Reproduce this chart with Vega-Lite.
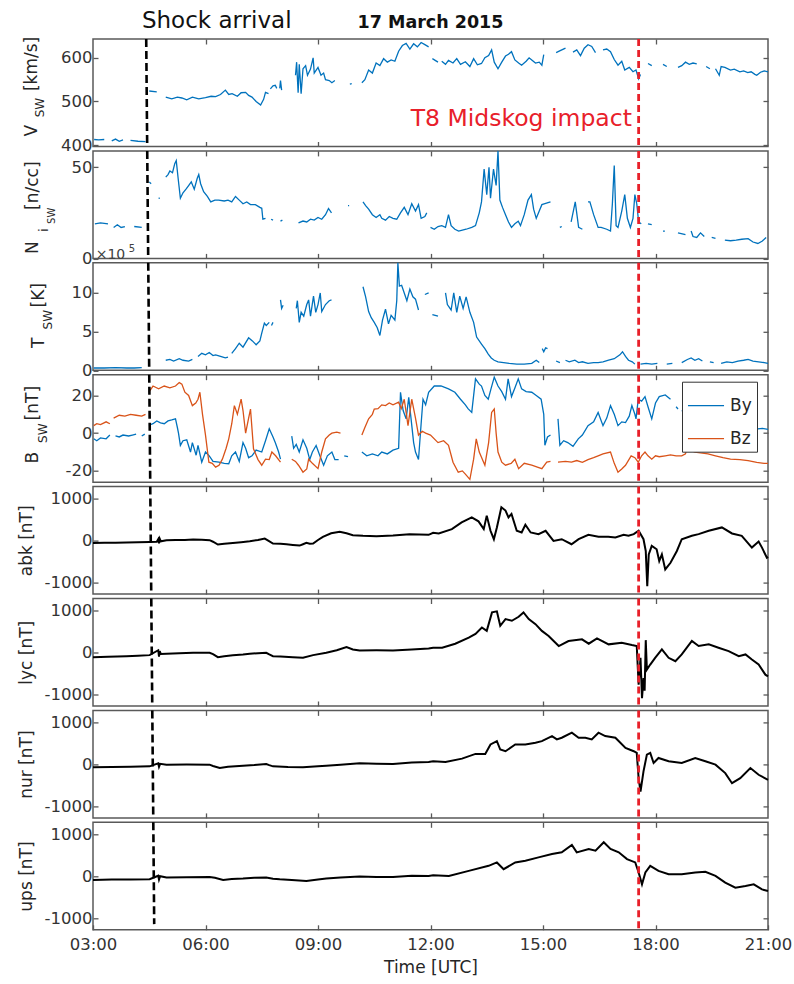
{
"$schema":"https://vega.github.io/schema/vega-lite/v6.json",
"background":"white",
"padding":{"left":16,"top":8,"right":20,"bottom":4},
"bounds":"flush",
"spacing":3.9,
"resolve":{"legend":{"color":"independent"}},
"config":{
 "view":{"stroke":"#595959","strokeWidth":1.5},
 "axis":{"domain":false,"grid":false,"tickColor":"#595959","tickWidth":1.3,"labelFont":"DejaVu Sans","labelFontSize":16.5,"labelColor":"#333333","titleFont":"DejaVu Sans","titleFontSize":17,"titleFontWeight":"normal","titleColor":"#262626"},
 "text":{"font":"DejaVu Sans"}
},
"datasets":{
"V":[
{"t":3.03,"v":413,"s":1},{"t":3.15,"v":412,"s":1},{"t":3.3,"v":413,"s":1},
{"t":3.5,"v":410,"s":2},{"t":3.6,"v":414,"s":2},{"t":3.7,"v":409,"s":2},{"t":3.8,"v":412,"s":2},
{"t":4.0,"v":411,"s":3},{"t":4.2,"v":409,"s":3},{"t":4.4,"v":408,"s":3},
{"t":4.5,"v":524,"s":4},{"t":4.7,"v":522,"s":4},
{"t":4.94,"v":510,"s":5},{"t":5.1,"v":506,"s":5},{"t":5.25,"v":510,"s":5},{"t":5.37,"v":508,"s":5},{"t":5.5,"v":504,"s":5},{"t":5.65,"v":510,"s":5},{"t":5.82,"v":506,"s":5},{"t":6.0,"v":509,"s":5},{"t":6.15,"v":512,"s":5},{"t":6.27,"v":511,"s":5},{"t":6.4,"v":516,"s":5},{"t":6.53,"v":526,"s":5},{"t":6.62,"v":516,"s":5},{"t":6.71,"v":518,"s":5},{"t":6.85,"v":512,"s":5},{"t":6.95,"v":520,"s":5},{"t":7.07,"v":521,"s":5},{"t":7.15,"v":514,"s":5},{"t":7.24,"v":510,"s":5},{"t":7.35,"v":500,"s":5},{"t":7.47,"v":492,"s":5},{"t":7.55,"v":505,"s":5},{"t":7.6,"v":521,"s":5},{"t":7.68,"v":518,"s":5},
{"t":7.73,"v":529,"s":6},{"t":7.8,"v":536,"s":6},{"t":7.86,"v":537,"s":6},{"t":7.9,"v":530,"s":6},
{"t":7.98,"v":530,"s":7},{"t":8.0,"v":548,"s":7},{"t":8.03,"v":526,"s":7},
{"t":8.4,"v":560,"s":8},{"t":8.43,"v":590,"s":8},{"t":8.47,"v":520,"s":8},{"t":8.5,"v":585,"s":8},{"t":8.55,"v":518,"s":8},{"t":8.6,"v":575,"s":8},{"t":8.67,"v":582,"s":8},{"t":8.72,"v":560,"s":8},{"t":8.8,"v":574,"s":8},{"t":8.87,"v":600,"s":8},{"t":8.9,"v":565,"s":8},{"t":9.0,"v":578,"s":8},{"t":9.08,"v":560,"s":8},{"t":9.15,"v":565,"s":8},{"t":9.2,"v":550,"s":8},{"t":9.3,"v":548,"s":8},{"t":9.37,"v":543,"s":8},{"t":9.45,"v":548,"s":8},
{"t":9.85,"v":540,"s":9},{"t":9.9,"v":541,"s":9},
{"t":10.17,"v":543,"s":10},{"t":10.25,"v":550,"s":10},{"t":10.35,"v":572,"s":10},{"t":10.45,"v":565,"s":10},{"t":10.55,"v":588,"s":10},{"t":10.65,"v":582,"s":10},{"t":10.75,"v":598,"s":10},{"t":10.85,"v":590,"s":10},{"t":10.95,"v":595,"s":10},{"t":11.05,"v":592,"s":10},{"t":11.15,"v":615,"s":10},{"t":11.25,"v":628,"s":10},{"t":11.35,"v":633,"s":10},{"t":11.45,"v":620,"s":10},{"t":11.55,"v":632,"s":10},{"t":11.65,"v":625,"s":10},{"t":11.75,"v":635,"s":10},{"t":11.85,"v":630,"s":10},{"t":11.95,"v":625,"s":10},
{"t":12.05,"v":598,"s":11},{"t":12.2,"v":590,"s":11},
{"t":12.3,"v":592,"s":12},{"t":12.4,"v":585,"s":12},{"t":12.48,"v":594,"s":12},{"t":12.6,"v":588,"s":12},{"t":12.7,"v":598,"s":12},{"t":12.8,"v":585,"s":12},{"t":12.93,"v":591,"s":12},{"t":13.05,"v":580,"s":12},{"t":13.15,"v":598,"s":12},{"t":13.25,"v":584,"s":12},{"t":13.36,"v":587,"s":12},{"t":13.45,"v":600,"s":12},{"t":13.55,"v":605,"s":12},{"t":13.63,"v":618,"s":12},{"t":13.7,"v":590,"s":12},{"t":13.8,"v":575,"s":12},{"t":13.9,"v":590,"s":12},{"t":14.0,"v":604,"s":12},{"t":14.08,"v":608,"s":12},{"t":14.16,"v":614,"s":12},{"t":14.25,"v":595,"s":12},{"t":14.35,"v":588,"s":12},{"t":14.43,"v":583,"s":12},{"t":14.55,"v":592,"s":12},{"t":14.63,"v":600,"s":12},{"t":14.7,"v":595,"s":12},{"t":14.8,"v":588,"s":12},{"t":14.9,"v":590,"s":12},{"t":14.97,"v":583,"s":12},{"t":15.02,"v":607,"s":12},
{"t":15.35,"v":612,"s":13},{"t":15.5,"v":618,"s":13},{"t":15.6,"v":622,"s":13},
{"t":15.8,"v":613,"s":14},{"t":15.9,"v":618,"s":14},{"t":16.0,"v":605,"s":14},{"t":16.1,"v":622,"s":14},{"t":16.2,"v":630,"s":14},{"t":16.3,"v":626,"s":14},{"t":16.4,"v":612,"s":14},
{"t":16.6,"v":618,"s":15},{"t":16.7,"v":620,"s":15},{"t":16.8,"v":614,"s":15},{"t":16.9,"v":596,"s":15},{"t":17.0,"v":583,"s":15},{"t":17.1,"v":592,"s":15},{"t":17.18,"v":572,"s":15},{"t":17.3,"v":578,"s":15},{"t":17.4,"v":568,"s":15},{"t":17.48,"v":572,"s":15},{"t":17.55,"v":552,"s":15},{"t":17.6,"v":562,"s":15},
{"t":17.8,"v":587,"s":16},{"t":17.9,"v":582,"s":16},
{"t":18.2,"v":585,"s":17},{"t":18.3,"v":580,"s":17},
{"t":18.6,"v":578,"s":18},{"t":18.7,"v":582,"s":18},{"t":18.8,"v":590,"s":18},{"t":18.9,"v":585,"s":18},{"t":19.0,"v":588,"s":18},{"t":19.1,"v":586,"s":18},
{"t":19.35,"v":580,"s":19},{"t":19.45,"v":575,"s":19},
{"t":19.6,"v":575,"s":20},{"t":19.7,"v":560,"s":20},{"t":19.75,"v":580,"s":20},{"t":19.85,"v":578,"s":20},{"t":20.0,"v":572,"s":20},{"t":20.1,"v":574,"s":20},{"t":20.25,"v":568,"s":20},{"t":20.35,"v":570,"s":20},{"t":20.46,"v":566,"s":20},{"t":20.55,"v":568,"s":20},{"t":20.65,"v":562,"s":20},{"t":20.7,"v":560,"s":20},{"t":20.8,"v":567,"s":20},{"t":20.9,"v":570,"s":20},{"t":21.0,"v":568,"s":20}
],
"N":[
{"t":3.05,"v":19,"s":1},{"t":3.2,"v":19.5,"s":1},{"t":3.4,"v":19,"s":1},
{"t":3.55,"v":17,"s":2},{"t":3.65,"v":18.5,"s":2},{"t":3.75,"v":17,"s":2},{"t":3.85,"v":17.5,"s":2},
{"t":4.1,"v":17.5,"s":3},{"t":4.3,"v":17,"s":3},
{"t":4.5,"v":42,"s":4},{"t":4.55,"v":41,"s":4},
{"t":4.75,"v":33,"s":5},{"t":4.78,"v":33,"s":5},
{"t":4.94,"v":44.6,"s":6},{"t":5.0,"v":46,"s":6},{"t":5.05,"v":48,"s":6},{"t":5.12,"v":47,"s":6},{"t":5.18,"v":52,"s":6},{"t":5.22,"v":53.7,"s":6},{"t":5.27,"v":44,"s":6},{"t":5.33,"v":33,"s":6},{"t":5.4,"v":36,"s":6},{"t":5.48,"v":38,"s":6},{"t":5.55,"v":40,"s":6},{"t":5.62,"v":42,"s":6},{"t":5.7,"v":38,"s":6},{"t":5.78,"v":44,"s":6},{"t":5.82,"v":46,"s":6},{"t":5.87,"v":41,"s":6},{"t":5.95,"v":36.6,"s":6},{"t":6.05,"v":34,"s":6},{"t":6.14,"v":31,"s":6},{"t":6.25,"v":32,"s":6},{"t":6.35,"v":32,"s":6},{"t":6.5,"v":31.5,"s":6},{"t":6.6,"v":32,"s":6},{"t":6.7,"v":31,"s":6},{"t":6.8,"v":34,"s":6},{"t":6.9,"v":32,"s":6},{"t":7.0,"v":30,"s":6},{"t":7.1,"v":31,"s":6},{"t":7.2,"v":29.5,"s":6},{"t":7.33,"v":29.5,"s":6},{"t":7.45,"v":28,"s":6},{"t":7.5,"v":27.5,"s":6},{"t":7.53,"v":21.5,"s":6},{"t":7.6,"v":22,"s":6},
{"t":7.75,"v":21.5,"s":7},{"t":7.8,"v":21,"s":7},
{"t":8.0,"v":20.5,"s":8},{"t":8.05,"v":21,"s":8},
{"t":8.48,"v":19.5,"s":9},{"t":8.6,"v":20.5,"s":9},{"t":8.7,"v":20,"s":9},{"t":8.8,"v":21.5,"s":9},{"t":8.9,"v":21,"s":9},{"t":9.0,"v":22.5,"s":9},{"t":9.1,"v":21.5,"s":9},{"t":9.2,"v":24,"s":9},{"t":9.28,"v":27.4,"s":9},{"t":9.36,"v":25,"s":9},
{"t":9.8,"v":29,"s":10},{"t":9.83,"v":29,"s":10},
{"t":10.2,"v":31,"s":11},{"t":10.27,"v":29,"s":11},{"t":10.35,"v":27,"s":11},{"t":10.45,"v":24,"s":11},{"t":10.55,"v":22.5,"s":11},{"t":10.65,"v":24,"s":11},{"t":10.7,"v":22,"s":11},{"t":10.8,"v":21,"s":11},{"t":10.9,"v":23,"s":11},{"t":11.0,"v":22,"s":11},{"t":11.1,"v":21.5,"s":11},{"t":11.2,"v":25,"s":11},{"t":11.3,"v":28,"s":11},{"t":11.4,"v":24,"s":11},{"t":11.5,"v":30,"s":11},{"t":11.6,"v":26,"s":11},{"t":11.68,"v":29.5,"s":11},{"t":11.75,"v":22,"s":11},{"t":11.85,"v":23,"s":11},{"t":11.9,"v":25,"s":11},
{"t":12.0,"v":17,"s":12},{"t":12.1,"v":16,"s":12},{"t":12.2,"v":17.5,"s":12},{"t":12.3,"v":18,"s":12},{"t":12.4,"v":17,"s":12},{"t":12.48,"v":24,"s":12},{"t":12.55,"v":18,"s":12},{"t":12.65,"v":16,"s":12},{"t":12.75,"v":15,"s":12},{"t":12.85,"v":15.5,"s":12},{"t":12.95,"v":16,"s":12},{"t":13.1,"v":17,"s":12},{"t":13.2,"v":18,"s":12},{"t":13.3,"v":25,"s":12},{"t":13.36,"v":31,"s":12},{"t":13.43,"v":49,"s":12},{"t":13.5,"v":35,"s":12},{"t":13.56,"v":50,"s":12},{"t":13.6,"v":33,"s":12},{"t":13.68,"v":49,"s":12},{"t":13.75,"v":40,"s":12},{"t":13.8,"v":59,"s":12},{"t":13.85,"v":32,"s":12},{"t":13.92,"v":28,"s":12},{"t":14.0,"v":24,"s":12},{"t":14.08,"v":20,"s":12},{"t":14.16,"v":17,"s":12},{"t":14.25,"v":19,"s":12},{"t":14.34,"v":20.4,"s":12},{"t":14.4,"v":18,"s":12},{"t":14.5,"v":24,"s":12},{"t":14.6,"v":32,"s":12},{"t":14.69,"v":35,"s":12},{"t":14.75,"v":27,"s":12},{"t":14.82,"v":22,"s":12},{"t":14.9,"v":26,"s":12},{"t":14.97,"v":29.5,"s":12},{"t":15.05,"v":30,"s":12},{"t":15.2,"v":31,"s":12},
{"t":15.45,"v":17,"s":13},{"t":15.5,"v":17.5,"s":13},
{"t":15.75,"v":20,"s":14},{"t":15.86,"v":31,"s":14},{"t":15.95,"v":17,"s":14},{"t":16.05,"v":16,"s":14},
{"t":16.2,"v":31,"s":15},{"t":16.25,"v":31,"s":15},{"t":16.35,"v":24,"s":15},{"t":16.47,"v":17,"s":15},{"t":16.55,"v":17,"s":15},{"t":16.7,"v":16,"s":15},{"t":16.8,"v":15,"s":15},{"t":16.85,"v":30,"s":15},{"t":16.9,"v":51,"s":15},{"t":16.95,"v":18,"s":15},{"t":17.0,"v":17,"s":15},{"t":17.1,"v":26,"s":15},{"t":17.18,"v":35,"s":15},{"t":17.25,"v":22,"s":15},{"t":17.33,"v":17,"s":15},{"t":17.4,"v":22,"s":15},{"t":17.45,"v":35,"s":15},{"t":17.5,"v":30,"s":15},{"t":17.55,"v":20,"s":15},{"t":17.62,"v":19,"s":15},
{"t":17.8,"v":19,"s":16},{"t":17.9,"v":18.5,"s":16},
{"t":18.2,"v":15,"s":17},{"t":18.25,"v":15,"s":17},
{"t":18.6,"v":14,"s":18},{"t":18.8,"v":13,"s":18},
{"t":18.95,"v":15,"s":19},{"t":19.0,"v":12,"s":19},{"t":19.1,"v":11.5,"s":19},{"t":19.2,"v":14,"s":19},{"t":19.3,"v":12,"s":19},
{"t":19.5,"v":11.5,"s":20},{"t":19.6,"v":11,"s":20},
{"t":19.85,"v":10,"s":21},{"t":20.0,"v":9.7,"s":21},{"t":20.15,"v":10,"s":21},{"t":20.3,"v":10.5,"s":21},{"t":20.47,"v":10.8,"s":21},{"t":20.6,"v":9,"s":21},{"t":20.73,"v":8.2,"s":21},{"t":20.85,"v":9.5,"s":21},{"t":20.95,"v":11.5,"s":21}
],
"T":[
{"t":3.02,"v":0.3,"s":1},{"t":3.3,"v":0.3,"s":1},{"t":3.6,"v":0.35,"s":1},{"t":3.9,"v":0.3,"s":1},{"t":4.1,"v":0.3,"s":1},{"t":4.3,"v":0.35,"s":1},
{"t":4.94,"v":1.3,"s":2},{"t":5.05,"v":1.4,"s":2},{"t":5.15,"v":1.2,"s":2},{"t":5.3,"v":1.5,"s":2},{"t":5.4,"v":1.3,"s":2},{"t":5.55,"v":1.2,"s":2},{"t":5.65,"v":1.4,"s":2},
{"t":5.8,"v":1.8,"s":3},{"t":5.9,"v":2.2,"s":3},{"t":6.0,"v":2.0,"s":3},{"t":6.1,"v":2.3,"s":3},{"t":6.2,"v":1.9,"s":3},{"t":6.27,"v":2.0,"s":3},{"t":6.4,"v":1.8,"s":3},{"t":6.53,"v":1.6,"s":3},{"t":6.6,"v":1.7,"s":3},
{"t":6.7,"v":2.2,"s":4},{"t":6.8,"v":2.8,"s":4},{"t":6.9,"v":3.5,"s":4},{"t":7.0,"v":3.0,"s":4},{"t":7.15,"v":4.2,"s":4},{"t":7.25,"v":3.8,"s":4},{"t":7.35,"v":3.3,"s":4},{"t":7.45,"v":3.8,"s":4},{"t":7.5,"v":4.8,"s":4},{"t":7.57,"v":6.1,"s":4},{"t":7.62,"v":5.8,"s":4},{"t":7.7,"v":6.2,"s":4},
{"t":7.76,"v":5.8,"s":5},{"t":7.8,"v":6.2,"s":5},
{"t":8.0,"v":9.1,"s":6},{"t":8.03,"v":8.0,"s":6},{"t":8.07,"v":8.4,"s":6},
{"t":8.42,"v":8.0,"s":7},{"t":8.45,"v":9.0,"s":7},{"t":8.5,"v":6.2,"s":7},{"t":8.55,"v":7.5,"s":7},{"t":8.62,"v":7.0,"s":7},{"t":8.7,"v":8.5,"s":7},{"t":8.75,"v":9.1,"s":7},{"t":8.8,"v":7.0,"s":7},{"t":8.88,"v":9.6,"s":7},{"t":8.94,"v":7.5,"s":7},{"t":9.0,"v":8.5,"s":7},{"t":9.06,"v":10.0,"s":7},{"t":9.1,"v":7.6,"s":7},{"t":9.2,"v":8.5,"s":7},{"t":9.3,"v":9.0,"s":7},{"t":9.36,"v":9.1,"s":7},
{"t":10.2,"v":10.8,"s":8},{"t":10.27,"v":9.5,"s":8},{"t":10.35,"v":7.6,"s":8},{"t":10.42,"v":6.8,"s":8},{"t":10.5,"v":6.2,"s":8},{"t":10.58,"v":5.5,"s":8},{"t":10.65,"v":4.5,"s":8},{"t":10.72,"v":6.5,"s":8},{"t":10.8,"v":7.9,"s":8},{"t":10.88,"v":6.0,"s":8},{"t":10.95,"v":7.1,"s":8},{"t":11.05,"v":6.5,"s":8},{"t":11.1,"v":9.0,"s":8},{"t":11.13,"v":13.9,"s":8},{"t":11.17,"v":10.9,"s":8},{"t":11.23,"v":11.0,"s":8},{"t":11.3,"v":10.0,"s":8},{"t":11.37,"v":9.0,"s":8},{"t":11.45,"v":10.5,"s":8},{"t":11.53,"v":9.5,"s":8},{"t":11.6,"v":9.2,"s":8},{"t":11.68,"v":7.8,"s":8},
{"t":11.85,"v":9.8,"s":9},{"t":11.95,"v":10.0,"s":9},
{"t":12.05,"v":7.2,"s":10},{"t":12.2,"v":7.0,"s":10},
{"t":12.4,"v":10.0,"s":11},{"t":12.45,"v":8.5,"s":11},{"t":12.55,"v":7.8,"s":11},{"t":12.62,"v":10.0,"s":11},{"t":12.7,"v":7.5,"s":11},{"t":12.78,"v":9.6,"s":11},{"t":12.87,"v":8.0,"s":11},{"t":12.95,"v":9.5,"s":11},{"t":13.05,"v":7.5,"s":11},{"t":13.15,"v":6.2,"s":11},{"t":13.23,"v":4.3,"s":11},{"t":13.36,"v":3.4,"s":11},{"t":13.45,"v":2.8,"s":11},{"t":13.54,"v":2.1,"s":11},{"t":13.62,"v":1.6,"s":11},{"t":13.7,"v":1.3,"s":11},{"t":13.8,"v":1.1,"s":11},{"t":13.95,"v":1.0,"s":11},{"t":14.1,"v":0.9,"s":11},{"t":14.3,"v":0.8,"s":11},{"t":14.5,"v":0.8,"s":11},{"t":14.7,"v":0.9,"s":11},{"t":14.82,"v":1.3,"s":11},{"t":14.9,"v":1.0,"s":11},
{"t":14.98,"v":2.8,"s":12},{"t":15.02,"v":2.4,"s":12},{"t":15.07,"v":2.9,"s":12},{"t":15.12,"v":2.8,"s":12},
{"t":15.35,"v":1.2,"s":13},{"t":15.45,"v":1.0,"s":13},
{"t":15.6,"v":1.3,"s":14},{"t":15.7,"v":1.1,"s":14},{"t":15.85,"v":1.3,"s":14},{"t":15.95,"v":1.0,"s":14},{"t":16.05,"v":1.1,"s":14},{"t":16.2,"v":0.9,"s":14},{"t":16.35,"v":1.0,"s":14},{"t":16.47,"v":1.0,"s":14},{"t":16.6,"v":1.1,"s":14},{"t":16.75,"v":1.3,"s":14},{"t":16.9,"v":1.5,"s":14},{"t":17.05,"v":2.0,"s":14},{"t":17.12,"v":2.4,"s":14},{"t":17.2,"v":1.8,"s":14},{"t":17.28,"v":1.3,"s":14},{"t":17.38,"v":1.1,"s":14},{"t":17.45,"v":0.8,"s":14},
{"t":17.6,"v":0.8,"s":15},{"t":17.75,"v":0.9,"s":15},{"t":17.9,"v":0.8,"s":15},{"t":18.05,"v":0.9,"s":15},
{"t":18.3,"v":0.8,"s":16},{"t":18.45,"v":0.9,"s":16},
{"t":18.7,"v":1.0,"s":17},{"t":18.85,"v":1.4,"s":17},{"t":18.95,"v":1.6,"s":17},{"t":19.05,"v":1.3,"s":17},{"t":19.15,"v":1.5,"s":17},{"t":19.25,"v":1.2,"s":17},
{"t":19.45,"v":1.1,"s":18},{"t":19.55,"v":1.0,"s":18},
{"t":19.75,"v":0.9,"s":19},{"t":19.9,"v":1.1,"s":19},{"t":20.05,"v":1.0,"s":19},{"t":20.2,"v":1.2,"s":19},{"t":20.35,"v":1.3,"s":19},{"t":20.47,"v":1.4,"s":19},{"t":20.6,"v":1.2,"s":19},{"t":20.75,"v":1.1,"s":19},{"t":20.9,"v":1.0,"s":19},{"t":21.0,"v":0.9,"s":19}
],
"B":[
{"t":3.02,"v":-3,"c":"By","s":1},{"t":3.1,"v":-4,"c":"By","s":1},{"t":3.2,"v":-2.5,"c":"By","s":1},{"t":3.35,"v":-3,"c":"By","s":1},{"t":3.45,"v":-1,"c":"By","s":1},
{"t":3.6,"v":-1.5,"c":"By","s":2},{"t":3.7,"v":-2,"c":"By","s":2},{"t":3.8,"v":-1,"c":"By","s":2},{"t":3.95,"v":-1.5,"c":"By","s":2},{"t":4.05,"v":-1,"c":"By","s":2},{"t":4.15,"v":-0.5,"c":"By","s":2},
{"t":4.3,"v":-1.5,"c":"By","s":3},{"t":4.38,"v":-0.5,"c":"By","s":3},
{"t":4.49,"v":4.2,"c":"By","s":4},{"t":4.6,"v":5,"c":"By","s":4},{"t":4.7,"v":6.5,"c":"By","s":4},{"t":4.8,"v":5.5,"c":"By","s":4},{"t":4.9,"v":5,"c":"By","s":4},{"t":5.0,"v":6.5,"c":"By","s":4},{"t":5.1,"v":7,"c":"By","s":4},{"t":5.2,"v":7.6,"c":"By","s":4},{"t":5.25,"v":3,"c":"By","s":4},{"t":5.28,"v":0,"c":"By","s":4},{"t":5.33,"v":-6.5,"c":"By","s":4},{"t":5.4,"v":-4,"c":"By","s":4},{"t":5.5,"v":-3.5,"c":"By","s":4},{"t":5.6,"v":-10,"c":"By","s":4},{"t":5.65,"v":-5,"c":"By","s":4},{"t":5.75,"v":-11.7,"c":"By","s":4},{"t":5.8,"v":-6.5,"c":"By","s":4},{"t":5.9,"v":-15.4,"c":"By","s":4},{"t":6.0,"v":-10,"c":"By","s":4},{"t":6.1,"v":-12,"c":"By","s":4},{"t":6.2,"v":-15,"c":"By","s":4},{"t":6.36,"v":-15.4,"c":"By","s":4},{"t":6.5,"v":-16,"c":"By","s":4},{"t":6.62,"v":-16.2,"c":"By","s":4},{"t":6.7,"v":-12,"c":"By","s":4},{"t":6.8,"v":-10,"c":"By","s":4},{"t":6.9,"v":-15,"c":"By","s":4},{"t":7.0,"v":-5,"c":"By","s":4},{"t":7.07,"v":-8,"c":"By","s":4},{"t":7.15,"v":-13,"c":"By","s":4},{"t":7.24,"v":-12,"c":"By","s":4},{"t":7.35,"v":-9,"c":"By","s":4},{"t":7.5,"v":-10,"c":"By","s":4},{"t":7.6,"v":-4,"c":"By","s":4},{"t":7.7,"v":2.3,"c":"By","s":4},{"t":7.8,"v":-2,"c":"By","s":4},{"t":7.86,"v":-5,"c":"By","s":4},{"t":7.95,"v":-10,"c":"By","s":4},{"t":8.0,"v":-13.8,"c":"By","s":4},
{"t":8.3,"v":-1.6,"c":"By","s":5},{"t":8.35,"v":-8,"c":"By","s":5},{"t":8.42,"v":-6,"c":"By","s":5},{"t":8.5,"v":-10,"c":"By","s":5},{"t":8.6,"v":-3.5,"c":"By","s":5},{"t":8.7,"v":-8,"c":"By","s":5},{"t":8.78,"v":-14,"c":"By","s":5},{"t":8.85,"v":-10,"c":"By","s":5},{"t":8.95,"v":-6.5,"c":"By","s":5},{"t":9.05,"v":-12,"c":"By","s":5},{"t":9.15,"v":-17,"c":"By","s":5},{"t":9.25,"v":-12,"c":"By","s":5},{"t":9.37,"v":-10,"c":"By","s":5},{"t":9.45,"v":-14,"c":"By","s":5},{"t":9.55,"v":-14,"c":"By","s":5},
{"t":9.7,"v":-12,"c":"By","s":6},{"t":9.8,"v":-12.5,"c":"By","s":6},
{"t":10.17,"v":-10,"c":"By","s":7},{"t":10.3,"v":-12,"c":"By","s":7},{"t":10.45,"v":-11,"c":"By","s":7},{"t":10.6,"v":-12,"c":"By","s":7},{"t":10.7,"v":-10,"c":"By","s":7},{"t":10.85,"v":-11,"c":"By","s":7},{"t":11.0,"v":-9,"c":"By","s":7},{"t":11.15,"v":-8,"c":"By","s":7},{"t":11.2,"v":21.7,"c":"By","s":7},{"t":11.27,"v":12,"c":"By","s":7},{"t":11.35,"v":7.6,"c":"By","s":7},{"t":11.42,"v":19,"c":"By","s":7},{"t":11.55,"v":-5,"c":"By","s":7},{"t":11.6,"v":-10,"c":"By","s":7},{"t":11.68,"v":-14,"c":"By","s":7},{"t":11.75,"v":5,"c":"By","s":7},{"t":11.8,"v":18,"c":"By","s":7},{"t":11.87,"v":15,"c":"By","s":7},{"t":11.95,"v":21.7,"c":"By","s":7},{"t":12.1,"v":25,"c":"By","s":7},{"t":12.28,"v":25,"c":"By","s":7},{"t":12.48,"v":23.5,"c":"By","s":7},{"t":12.65,"v":21.7,"c":"By","s":7},{"t":12.8,"v":18,"c":"By","s":7},{"t":12.93,"v":15,"c":"By","s":7},{"t":13.0,"v":13,"c":"By","s":7},{"t":13.1,"v":11,"c":"By","s":7},{"t":13.2,"v":28.8,"c":"By","s":7},{"t":13.3,"v":26,"c":"By","s":7},{"t":13.36,"v":25,"c":"By","s":7},{"t":13.45,"v":20,"c":"By","s":7},{"t":13.54,"v":18,"c":"By","s":7},{"t":13.62,"v":24,"c":"By","s":7},{"t":13.7,"v":29.7,"c":"By","s":7},{"t":13.8,"v":25,"c":"By","s":7},{"t":13.9,"v":22,"c":"By","s":7},{"t":14.0,"v":18,"c":"By","s":7},{"t":14.07,"v":28.8,"c":"By","s":7},{"t":14.16,"v":19.4,"c":"By","s":7},{"t":14.25,"v":24,"c":"By","s":7},{"t":14.34,"v":28.8,"c":"By","s":7},{"t":14.43,"v":23.5,"c":"By","s":7},{"t":14.55,"v":22,"c":"By","s":7},{"t":14.7,"v":21.7,"c":"By","s":7},{"t":14.82,"v":20,"c":"By","s":7},{"t":14.95,"v":18,"c":"By","s":7},{"t":15.02,"v":10,"c":"By","s":7},{"t":15.05,"v":-6.4,"c":"By","s":7},{"t":15.12,"v":-2,"c":"By","s":7},{"t":15.2,"v":-1,"c":"By","s":7},
{"t":15.4,"v":7.6,"c":"By","s":8},{"t":15.45,"v":-6.4,"c":"By","s":8},{"t":15.55,"v":-4,"c":"By","s":8},{"t":15.66,"v":-5,"c":"By","s":8},{"t":15.8,"v":-7,"c":"By","s":8},{"t":15.94,"v":-3,"c":"By","s":8},{"t":16.05,"v":-1,"c":"By","s":8},{"t":16.2,"v":4,"c":"By","s":8},{"t":16.35,"v":6,"c":"By","s":8},{"t":16.47,"v":11,"c":"By","s":8},{"t":16.6,"v":4,"c":"By","s":8},{"t":16.7,"v":8,"c":"By","s":8},{"t":16.8,"v":14.6,"c":"By","s":8},{"t":16.9,"v":10,"c":"By","s":8},{"t":17.0,"v":4,"c":"By","s":8},{"t":17.1,"v":6,"c":"By","s":8},{"t":17.2,"v":5.6,"c":"By","s":8},{"t":17.3,"v":9,"c":"By","s":8},{"t":17.37,"v":14.6,"c":"By","s":8},{"t":17.45,"v":10,"c":"By","s":8},{"t":17.48,"v":7.6,"c":"By","s":8},{"t":17.54,"v":18,"c":"By","s":8},{"t":17.63,"v":17,"c":"By","s":8},{"t":17.72,"v":19.4,"c":"By","s":8},{"t":17.8,"v":14,"c":"By","s":8},{"t":17.9,"v":7.6,"c":"By","s":8},{"t":18.0,"v":16,"c":"By","s":8},{"t":18.1,"v":19.4,"c":"By","s":8},{"t":18.26,"v":20.3,"c":"By","s":8},{"t":18.4,"v":18,"c":"By","s":8},
{"t":18.55,"v":14,"c":"By","s":9},{"t":18.6,"v":12.8,"c":"By","s":9},
{"t":18.7,"v":12,"c":"By","s":10},{"t":19.0,"v":8,"c":"By","s":10},{"t":19.3,"v":6,"c":"By","s":10},{"t":19.6,"v":5,"c":"By","s":10},{"t":19.9,"v":4,"c":"By","s":10},{"t":20.2,"v":3,"c":"By","s":10},{"t":20.5,"v":2.5,"c":"By","s":10},{"t":20.73,"v":2.3,"c":"By","s":10},{"t":20.85,"v":2.5,"c":"By","s":10},{"t":21.0,"v":2.0,"c":"By","s":10},
{"t":3.02,"v":4,"c":"Bz","s":1},{"t":3.1,"v":5,"c":"Bz","s":1},{"t":3.2,"v":4.5,"c":"Bz","s":1},{"t":3.35,"v":6,"c":"Bz","s":1},{"t":3.45,"v":5,"c":"Bz","s":1},
{"t":3.55,"v":8,"c":"Bz","s":2},{"t":3.7,"v":9.5,"c":"Bz","s":2},{"t":3.85,"v":9,"c":"Bz","s":2},{"t":4.0,"v":10,"c":"Bz","s":2},{"t":4.15,"v":9.5,"c":"Bz","s":2},{"t":4.3,"v":9,"c":"Bz","s":2},{"t":4.4,"v":10,"c":"Bz","s":2},
{"t":4.49,"v":21.7,"c":"Bz","s":3},{"t":4.6,"v":25,"c":"Bz","s":3},{"t":4.75,"v":23.5,"c":"Bz","s":3},{"t":4.9,"v":25,"c":"Bz","s":3},{"t":5.05,"v":24,"c":"Bz","s":3},{"t":5.2,"v":25,"c":"Bz","s":3},{"t":5.3,"v":26.8,"c":"Bz","s":3},{"t":5.37,"v":26,"c":"Bz","s":3},{"t":5.45,"v":21.7,"c":"Bz","s":3},{"t":5.55,"v":20,"c":"Bz","s":3},{"t":5.65,"v":14.6,"c":"Bz","s":3},{"t":5.74,"v":16,"c":"Bz","s":3},{"t":5.8,"v":18,"c":"Bz","s":3},{"t":5.85,"v":21.7,"c":"Bz","s":3},{"t":5.92,"v":10,"c":"Bz","s":3},{"t":6.0,"v":-1,"c":"Bz","s":3},{"t":6.09,"v":-15.4,"c":"Bz","s":3},{"t":6.18,"v":-16,"c":"Bz","s":3},{"t":6.27,"v":-18,"c":"Bz","s":3},{"t":6.36,"v":-17,"c":"Bz","s":3},{"t":6.45,"v":-13.8,"c":"Bz","s":3},{"t":6.55,"v":-8,"c":"Bz","s":3},{"t":6.62,"v":-3,"c":"Bz","s":3},{"t":6.7,"v":5,"c":"Bz","s":3},{"t":6.77,"v":14.6,"c":"Bz","s":3},{"t":6.85,"v":10,"c":"Bz","s":3},{"t":6.95,"v":18,"c":"Bz","s":3},{"t":7.0,"v":12,"c":"Bz","s":3},{"t":7.07,"v":0,"c":"Bz","s":3},{"t":7.15,"v":8,"c":"Bz","s":3},{"t":7.2,"v":12.8,"c":"Bz","s":3},{"t":7.28,"v":-8.3,"c":"Bz","s":3},{"t":7.4,"v":-14,"c":"Bz","s":3},{"t":7.5,"v":-17,"c":"Bz","s":3},{"t":7.6,"v":-13.8,"c":"Bz","s":3},{"t":7.7,"v":-14,"c":"Bz","s":3},{"t":7.77,"v":-10,"c":"Bz","s":3},{"t":7.87,"v":-12,"c":"Bz","s":3},{"t":8.0,"v":-15.4,"c":"Bz","s":3},
{"t":8.3,"v":-13.8,"c":"Bz","s":4},{"t":8.4,"v":-15,"c":"Bz","s":4},{"t":8.48,"v":-17,"c":"Bz","s":4},{"t":8.6,"v":-20.7,"c":"Bz","s":4},{"t":8.7,"v":-19,"c":"Bz","s":4},{"t":8.75,"v":-13.8,"c":"Bz","s":4},{"t":8.85,"v":-16,"c":"Bz","s":4},{"t":9.0,"v":-18.8,"c":"Bz","s":4},{"t":9.1,"v":-10,"c":"Bz","s":4},{"t":9.2,"v":-3,"c":"Bz","s":4},{"t":9.3,"v":-1,"c":"Bz","s":4},{"t":9.37,"v":0,"c":"Bz","s":4},{"t":9.5,"v":0.5,"c":"Bz","s":4},{"t":9.6,"v":0,"c":"Bz","s":4},
{"t":10.17,"v":-1,"c":"Bz","s":5},{"t":10.25,"v":3,"c":"Bz","s":5},{"t":10.35,"v":7.6,"c":"Bz","s":5},{"t":10.45,"v":10,"c":"Bz","s":5},{"t":10.5,"v":12.8,"c":"Bz","s":5},{"t":10.6,"v":13,"c":"Bz","s":5},{"t":10.7,"v":15,"c":"Bz","s":5},{"t":10.8,"v":14.6,"c":"Bz","s":5},{"t":10.9,"v":16,"c":"Bz","s":5},{"t":11.0,"v":15,"c":"Bz","s":5},{"t":11.15,"v":16.4,"c":"Bz","s":5},{"t":11.22,"v":13,"c":"Bz","s":5},{"t":11.3,"v":18,"c":"Bz","s":5},{"t":11.4,"v":4,"c":"Bz","s":5},{"t":11.5,"v":18,"c":"Bz","s":5},{"t":11.6,"v":8,"c":"Bz","s":5},{"t":11.68,"v":-1,"c":"Bz","s":5},{"t":11.78,"v":1,"c":"Bz","s":5},{"t":11.87,"v":0,"c":"Bz","s":5},{"t":12.0,"v":-1,"c":"Bz","s":5},{"t":12.2,"v":-5,"c":"Bz","s":5},{"t":12.35,"v":-4,"c":"Bz","s":5},{"t":12.48,"v":-6.4,"c":"Bz","s":5},{"t":12.6,"v":-15.4,"c":"Bz","s":5},{"t":12.74,"v":-20.7,"c":"Bz","s":5},{"t":12.85,"v":-20,"c":"Bz","s":5},{"t":12.93,"v":-21.7,"c":"Bz","s":5},{"t":13.05,"v":-24.5,"c":"Bz","s":5},{"t":13.15,"v":-13.8,"c":"Bz","s":5},{"t":13.22,"v":-3,"c":"Bz","s":5},{"t":13.3,"v":-10,"c":"Bz","s":5},{"t":13.45,"v":-17,"c":"Bz","s":5},{"t":13.55,"v":-5,"c":"Bz","s":5},{"t":13.63,"v":11,"c":"Bz","s":5},{"t":13.7,"v":12.8,"c":"Bz","s":5},{"t":13.75,"v":0,"c":"Bz","s":5},{"t":13.8,"v":-10,"c":"Bz","s":5},{"t":13.9,"v":-15.4,"c":"Bz","s":5},{"t":14.0,"v":-17,"c":"Bz","s":5},{"t":14.15,"v":-16,"c":"Bz","s":5},{"t":14.25,"v":-13.8,"c":"Bz","s":5},{"t":14.35,"v":-18.8,"c":"Bz","s":5},{"t":14.5,"v":-16,"c":"Bz","s":5},{"t":14.7,"v":-17,"c":"Bz","s":5},{"t":14.85,"v":-18,"c":"Bz","s":5},{"t":14.97,"v":-18.8,"c":"Bz","s":5},{"t":15.1,"v":-15.4,"c":"Bz","s":5},{"t":15.2,"v":-15,"c":"Bz","s":5},
{"t":15.4,"v":-15.4,"c":"Bz","s":6},{"t":15.6,"v":-15,"c":"Bz","s":6},{"t":15.76,"v":-15.4,"c":"Bz","s":6},{"t":15.9,"v":-14.5,"c":"Bz","s":6},{"t":16.05,"v":-15.5,"c":"Bz","s":6},{"t":16.2,"v":-14,"c":"Bz","s":6},{"t":16.35,"v":-13,"c":"Bz","s":6},{"t":16.47,"v":-12,"c":"Bz","s":6},{"t":16.6,"v":-11,"c":"Bz","s":6},{"t":16.8,"v":-10,"c":"Bz","s":6},{"t":16.9,"v":-16,"c":"Bz","s":6},{"t":17.0,"v":-20.7,"c":"Bz","s":6},{"t":17.1,"v":-19,"c":"Bz","s":6},{"t":17.2,"v":-17,"c":"Bz","s":6},{"t":17.35,"v":-12,"c":"Bz","s":6},{"t":17.45,"v":-13,"c":"Bz","s":6},{"t":17.54,"v":-15.4,"c":"Bz","s":6},{"t":17.63,"v":-12,"c":"Bz","s":6},{"t":17.72,"v":-10,"c":"Bz","s":6},{"t":17.8,"v":-12,"c":"Bz","s":6},{"t":17.9,"v":-13.8,"c":"Bz","s":6},{"t":18.0,"v":-12,"c":"Bz","s":6},{"t":18.1,"v":-12.5,"c":"Bz","s":6},{"t":18.26,"v":-12,"c":"Bz","s":6},{"t":18.4,"v":-11.5,"c":"Bz","s":6},{"t":18.55,"v":-12,"c":"Bz","s":6},{"t":18.7,"v":-12,"c":"Bz","s":6},{"t":18.8,"v":-11,"c":"Bz","s":6},{"t":18.87,"v":-5,"c":"Bz","s":6},{"t":18.92,"v":-9,"c":"Bz","s":6},{"t":19.05,"v":-10,"c":"Bz","s":6},{"t":19.2,"v":-10.5,"c":"Bz","s":6},{"t":19.4,"v":-11,"c":"Bz","s":6},{"t":19.6,"v":-12,"c":"Bz","s":6},{"t":19.8,"v":-13,"c":"Bz","s":6},{"t":20.0,"v":-13.8,"c":"Bz","s":6},{"t":20.25,"v":-14,"c":"Bz","s":6},{"t":20.47,"v":-14.6,"c":"Bz","s":6},{"t":20.7,"v":-15.5,"c":"Bz","s":6},{"t":20.9,"v":-16,"c":"Bz","s":6},{"t":21.0,"v":-16,"c":"Bz","s":6}
],
"abk":[
{"t":3.0,"v":-48},{"t":3.3,"v":-44},{"t":3.6,"v":-46},{"t":3.89,"v":-40},{"t":4.2,"v":-34},{"t":4.51,"v":-24},{"t":4.7,"v":-20},{"t":4.74,"v":40},{"t":4.76,"v":-60},{"t":4.78,"v":50},{"t":4.81,"v":-10},{"t":4.96,"v":16},{"t":5.2,"v":22},{"t":5.45,"v":18},{"t":5.67,"v":32},{"t":5.9,"v":24},{"t":6.11,"v":16},{"t":6.2,"v":-20},{"t":6.33,"v":-88},{"t":6.5,"v":-70},{"t":6.73,"v":-48},{"t":6.95,"v":-30},{"t":7.18,"v":-8},{"t":7.4,"v":20},{"t":7.58,"v":56},{"t":7.65,"v":20},{"t":7.8,"v":-64},{"t":8.0,"v":-70},{"t":8.16,"v":-80},{"t":8.33,"v":-96},{"t":8.51,"v":-112},{"t":8.6,"v":-80},{"t":8.69,"v":-48},{"t":8.78,"v":-70},{"t":8.87,"v":-64},{"t":9.0,"v":20},{"t":9.13,"v":96},{"t":9.35,"v":180},{"t":9.58,"v":216},{"t":9.76,"v":180},{"t":9.93,"v":136},{"t":10.2,"v":120},{"t":10.56,"v":112},{"t":11.0,"v":128},{"t":11.44,"v":160},{"t":11.95,"v":144},{"t":12.07,"v":192},{"t":12.22,"v":176},{"t":12.57,"v":280},{"t":12.83,"v":440},{"t":13.1,"v":560},{"t":13.28,"v":464},{"t":13.42,"v":280},{"t":13.5,"v":600},{"t":13.6,"v":240},{"t":13.69,"v":40},{"t":13.77,"v":320},{"t":13.89,"v":800},{"t":14.0,"v":720},{"t":14.08,"v":560},{"t":14.16,"v":640},{"t":14.3,"v":240},{"t":14.43,"v":200},{"t":14.53,"v":384},{"t":14.67,"v":200},{"t":14.88,"v":160},{"t":15.07,"v":240},{"t":15.28,"v":0},{"t":15.5,"v":40},{"t":15.76,"v":-80},{"t":15.95,"v":40},{"t":16.21,"v":144},{"t":16.48,"v":96},{"t":16.74,"v":96},{"t":16.93,"v":80},{"t":17.15,"v":144},{"t":17.28,"v":120},{"t":17.42,"v":160},{"t":17.55,"v":240},{"t":17.68,"v":40},{"t":17.74,"v":-240},{"t":17.78,"v":-1080},{"t":17.82,"v":-320},{"t":17.9,"v":-120},{"t":18.03,"v":-200},{"t":18.1,"v":-480},{"t":18.17,"v":-320},{"t":18.26,"v":-680},{"t":18.4,"v":-520},{"t":18.57,"v":-240},{"t":18.7,"v":40},{"t":18.97,"v":120},{"t":19.15,"v":160},{"t":19.42,"v":240},{"t":19.77,"v":320},{"t":20.04,"v":176},{"t":20.3,"v":120},{"t":20.57,"v":-160},{"t":20.75,"v":-16},{"t":20.84,"v":-160},{"t":20.97,"v":-400},{"t":21.0,"v":-380}
],
"lyc":[
{"t":3.0,"v":-104},{"t":3.4,"v":-96},{"t":3.89,"v":-80},{"t":4.2,"v":-70},{"t":4.51,"v":-56},{"t":4.74,"v":60},{"t":4.76,"v":-90},{"t":4.78,"v":40},{"t":4.81,"v":-30},{"t":4.96,"v":-24},{"t":5.3,"v":-10},{"t":5.67,"v":0},{"t":6.11,"v":0},{"t":6.2,"v":-30},{"t":6.33,"v":-104},{"t":6.5,"v":-80},{"t":6.73,"v":-56},{"t":7.0,"v":-40},{"t":7.18,"v":-24},{"t":7.4,"v":-10},{"t":7.62,"v":0},{"t":7.7,"v":-40},{"t":7.8,"v":-80},{"t":8.0,"v":-90},{"t":8.33,"v":-104},{"t":8.6,"v":-120},{"t":8.87,"v":-56},{"t":9.22,"v":0},{"t":9.5,"v":60},{"t":9.76,"v":136},{"t":9.93,"v":80},{"t":10.11,"v":56},{"t":10.56,"v":60},{"t":11.0,"v":56},{"t":11.5,"v":80},{"t":11.95,"v":104},{"t":12.07,"v":120},{"t":12.31,"v":120},{"t":12.66,"v":216},{"t":13.02,"v":360},{"t":13.2,"v":450},{"t":13.37,"v":600},{"t":13.5,"v":520},{"t":13.64,"v":960},{"t":13.77,"v":984},{"t":13.86,"v":640},{"t":14.0,"v":800},{"t":14.17,"v":760},{"t":14.35,"v":856},{"t":14.48,"v":960},{"t":14.62,"v":800},{"t":14.8,"v":680},{"t":14.97,"v":520},{"t":15.15,"v":400},{"t":15.42,"v":160},{"t":15.68,"v":280},{"t":16.04,"v":320},{"t":16.22,"v":216},{"t":16.44,"v":344},{"t":16.75,"v":200},{"t":17.1,"v":240},{"t":17.37,"v":184},{"t":17.5,"v":160},{"t":17.55,"v":-760},{"t":17.6,"v":-120},{"t":17.64,"v":-1080},{"t":17.68,"v":-600},{"t":17.71,"v":-900},{"t":17.74,"v":300},{"t":17.77,"v":-400},{"t":17.86,"v":-280},{"t":17.99,"v":-120},{"t":18.17,"v":80},{"t":18.35,"v":-120},{"t":18.53,"v":-200},{"t":18.7,"v":-40},{"t":18.97,"v":280},{"t":19.15,"v":160},{"t":19.42,"v":200},{"t":19.68,"v":120},{"t":19.95,"v":40},{"t":20.22,"v":-80},{"t":20.4,"v":-40},{"t":20.57,"v":-160},{"t":20.75,"v":-280},{"t":20.93,"v":-520},{"t":21.0,"v":-560}
],
"nur":[
{"t":3.0,"v":-64},{"t":3.5,"v":-55},{"t":4.0,"v":-48},{"t":4.51,"v":-40},{"t":4.74,"v":30},{"t":4.76,"v":-50},{"t":4.79,"v":20},{"t":4.96,"v":0},{"t":5.5,"v":4},{"t":6.11,"v":0},{"t":6.2,"v":-30},{"t":6.38,"v":-80},{"t":6.6,"v":-50},{"t":7.0,"v":-24},{"t":7.3,"v":-10},{"t":7.62,"v":16},{"t":7.7,"v":-10},{"t":7.8,"v":-40},{"t":8.2,"v":-56},{"t":8.6,"v":-64},{"t":9.0,"v":-40},{"t":9.22,"v":-24},{"t":9.6,"v":0},{"t":10.11,"v":32},{"t":10.56,"v":24},{"t":11.0,"v":16},{"t":11.5,"v":50},{"t":11.95,"v":64},{"t":12.07,"v":80},{"t":12.4,"v":64},{"t":12.84,"v":144},{"t":13.2,"v":256},{"t":13.46,"v":256},{"t":13.6,"v":480},{"t":13.77,"v":560},{"t":13.86,"v":360},{"t":14.0,"v":320},{"t":14.26,"v":480},{"t":14.53,"v":480},{"t":14.8,"v":520},{"t":14.97,"v":560},{"t":15.24,"v":680},{"t":15.37,"v":600},{"t":15.5,"v":640},{"t":15.77,"v":760},{"t":15.95,"v":640},{"t":16.13,"v":640},{"t":16.3,"v":600},{"t":16.48,"v":760},{"t":16.66,"v":680},{"t":16.93,"v":640},{"t":17.2,"v":400},{"t":17.42,"v":320},{"t":17.5,"v":280},{"t":17.55,"v":-320},{"t":17.6,"v":-640},{"t":17.68,"v":-160},{"t":17.77,"v":240},{"t":17.86,"v":280},{"t":17.95,"v":40},{"t":18.08,"v":160},{"t":18.35,"v":80},{"t":18.7,"v":40},{"t":19.06,"v":160},{"t":19.33,"v":80},{"t":19.6,"v":0},{"t":19.86,"v":-200},{"t":20.04,"v":-440},{"t":20.26,"v":-320},{"t":20.53,"v":-80},{"t":20.75,"v":-240},{"t":21.0,"v":-360}
],
"ups":[
{"t":3.0,"v":-80},{"t":3.5,"v":-72},{"t":4.0,"v":-68},{"t":4.51,"v":-64},{"t":4.74,"v":20},{"t":4.76,"v":-70},{"t":4.79,"v":10},{"t":4.96,"v":-24},{"t":5.5,"v":-16},{"t":6.11,"v":-8},{"t":6.25,"v":-30},{"t":6.47,"v":-80},{"t":6.7,"v":-60},{"t":7.0,"v":-48},{"t":7.3,"v":-30},{"t":7.62,"v":-24},{"t":7.8,"v":-50},{"t":7.98,"v":-64},{"t":8.3,"v":-80},{"t":8.69,"v":-104},{"t":9.0,"v":-70},{"t":9.22,"v":-48},{"t":9.6,"v":-20},{"t":10.11,"v":0},{"t":10.56,"v":-8},{"t":11.0,"v":-8},{"t":11.5,"v":20},{"t":11.95,"v":16},{"t":12.07,"v":32},{"t":12.49,"v":16},{"t":13.02,"v":136},{"t":13.55,"v":256},{"t":13.77,"v":336},{"t":13.95,"v":176},{"t":14.26,"v":336},{"t":14.53,"v":376},{"t":14.88,"v":456},{"t":15.24,"v":536},{"t":15.5,"v":576},{"t":15.77,"v":752},{"t":15.9,"v":576},{"t":16.22,"v":656},{"t":16.4,"v":616},{"t":16.62,"v":816},{"t":16.8,"v":656},{"t":17.02,"v":576},{"t":17.24,"v":416},{"t":17.46,"v":336},{"t":17.55,"v":96},{"t":17.64,"v":-184},{"t":17.73,"v":96},{"t":17.86,"v":256},{"t":18.08,"v":136},{"t":18.35,"v":56},{"t":18.7,"v":56},{"t":19.06,"v":96},{"t":19.33,"v":112},{"t":19.6,"v":16},{"t":19.86,"v":-144},{"t":20.13,"v":-264},{"t":20.4,"v":-224},{"t":20.62,"v":-184},{"t":20.84,"v":-304},{"t":21.0,"v":-344}
]
},
"vconcat":[
{
"width":675,"height":107.5,
"resolve":{"axis":{"x":"independent","y":"independent"}},
"layer":[
{"data":{"name":"V"},"mark":{"type":"line","color":"#0072BD","strokeWidth":1.3},
 "encoding":{"x":{"field":"t","type":"quantitative","scale":{"domain":[3,21],"nice":false,"zero":false},"axis":{"orient":"bottom","values":[6,9,12,15,18],"tickSize":-5,"labels":false,"title":null}},
 "y":{"field":"v","type":"quantitative","scale":{"domain":[397,643],"nice":false,"zero":false},"axis":{"orient":"left","values":[400,500,600],"tickSize":-5,"labelPadding":6,"labelExpr":"'' + datum.value","title":null,"labelFlush":false,"labelOverlap":false,"minExtent":52,"maxExtent":52}},
 "detail":{"field":"s","type":"nominal"}}},
{"data":{"values":[{}]},"mark":{"type":"rule","color":"#000000","strokeWidth":2.6,"strokeDash":[8,4]},
 "encoding":{"x":{"datum":4.419,"type":"quantitative","axis":{"orient":"top","values":[6,9,12,15,18],"tickSize":-5,"labels":false,"title":null}},"x2":{"datum":4.445},
 "y":{"datum":643,"type":"quantitative","axis":{"orient":"right","values":[400,500,600],"tickSize":-5,"labels":false,"title":null}},"y2":{"datum":397}}},
{"data":{"values":[{}]},"mark":{"type":"rule","color":"#E8202A","strokeWidth":2.8,"strokeDash":[7,4]},"encoding":{"x":{"datum":17.55,"type":"quantitative","axis":null}}},
{"data":{"values":[{}]},"mark":{"type":"text","text":"Shock arrival","fontSize":23,"color":"#111111","align":"center","baseline":"alphabetic"},"encoding":{"x":{"datum":6.3,"type":"quantitative","axis":null},"y":{"datum":669,"type":"quantitative","axis":null}}},
{"data":{"values":[{}]},"mark":{"type":"text","text":"17 March 2015","fontSize":17.5,"fontWeight":"bold","color":"#111111","align":"center","baseline":"alphabetic"},"encoding":{"x":{"datum":12.0,"type":"quantitative","axis":null},"y":{"datum":669,"type":"quantitative","axis":null}}},
{"data":{"values":[{}]},"mark":{"type":"text","text":"T8 Midskog impact","fontSize":23.5,"color":"#E8202A","align":"right","baseline":"alphabetic"},"encoding":{"x":{"datum":17.37,"type":"quantitative","axis":null},"y":{"datum":444,"type":"quantitative","axis":null}}},
{"data":{"values":[{}]},"mark":{"type":"text","text":"V","angle":270,"fontSize":17,"color":"#262626","align":"center","baseline":"middle"},"encoding":{"x":{"datum":1.365,"type":"quantitative","axis":null},"y":{"datum":433,"type":"quantitative","axis":null}}},
{"data":{"values":[{}]},"mark":{"type":"text","text":"SW","angle":270,"fontSize":12,"color":"#262626","align":"center","baseline":"middle"},"encoding":{"x":{"datum":1.58,"type":"quantitative","axis":null},"y":{"datum":486,"type":"quantitative","axis":null}}},
{"data":{"values":[{}]},"mark":{"type":"text","text":"[km/s]","angle":270,"fontSize":17,"color":"#262626","align":"center","baseline":"middle"},"encoding":{"x":{"datum":1.365,"type":"quantitative","axis":null},"y":{"datum":586,"type":"quantitative","axis":null}}}
]
},
{
"width":675,"height":107.5,
"resolve":{"axis":{"x":"independent","y":"independent"}},
"layer":[
{"data":{"name":"N"},"mark":{"type":"line","color":"#0072BD","strokeWidth":1.3},
 "encoding":{"x":{"field":"t","type":"quantitative","scale":{"domain":[3,21],"nice":false,"zero":false},"axis":{"orient":"bottom","values":[6,9,12,15,18],"tickSize":-5,"labels":false,"title":null}},
 "y":{"field":"v","type":"quantitative","scale":{"domain":[0,59],"nice":false,"zero":false},"axis":{"orient":"left","values":[0,50],"tickSize":-5,"labelPadding":6,"labelExpr":"'' + datum.value","title":null,"labelFlush":false,"labelOverlap":false,"minExtent":52,"maxExtent":52}},
 "detail":{"field":"s","type":"nominal"}}},
{"data":{"values":[{}]},"mark":{"type":"rule","color":"#000000","strokeWidth":2.6,"strokeDash":[8,4]},
 "encoding":{"x":{"datum":4.446,"type":"quantitative","axis":{"orient":"top","values":[6,9,12,15,18],"tickSize":-5,"labels":false,"title":null}},"x2":{"datum":4.472},
 "y":{"datum":59,"type":"quantitative","axis":{"orient":"right","values":[0,50],"tickSize":-5,"labels":false,"title":null}},"y2":{"datum":0}}},
{"data":{"values":[{}]},"mark":{"type":"rule","color":"#E8202A","strokeWidth":2.8,"strokeDash":[7,4]},"encoding":{"x":{"datum":17.55,"type":"quantitative","axis":null}}},
{"data":{"values":[{}]},"mark":{"type":"text","text":"N","angle":270,"fontSize":17,"color":"#262626","align":"center","baseline":"middle"},"encoding":{"x":{"datum":1.39,"type":"quantitative","axis":null},"y":{"datum":5.9,"type":"quantitative","axis":null}}},
{"data":{"values":[{}]},"mark":{"type":"text","text":"i","angle":270,"fontSize":12,"color":"#262626","align":"center","baseline":"middle"},"encoding":{"x":{"datum":1.699,"type":"quantitative","axis":null},"y":{"datum":15.5,"type":"quantitative","axis":null}}},
{"data":{"values":[{}]},"mark":{"type":"text","text":"SW","angle":270,"fontSize":10,"color":"#262626","align":"center","baseline":"middle"},"encoding":{"x":{"datum":1.907,"type":"quantitative","axis":null},"y":{"datum":23.4,"type":"quantitative","axis":null}}},
{"data":{"values":[{}]},"mark":{"type":"text","text":"[n/cc]","angle":270,"fontSize":17,"color":"#262626","align":"center","baseline":"middle"},"encoding":{"x":{"datum":1.39,"type":"quantitative","axis":null},"y":{"datum":39.9,"type":"quantitative","axis":null}}},
{"data":{"values":[{}]},"mark":{"type":"text","text":"×10","fontSize":14,"color":"#404040","align":"left","baseline":"alphabetic"},"encoding":{"x":{"datum":3.072,"type":"quantitative","axis":null},"y":{"datum":-0.4,"type":"quantitative","axis":null}}},
{"data":{"values":[{}]},"mark":{"type":"text","text":"5","fontSize":10,"color":"#404040","align":"left","baseline":"alphabetic"},"encoding":{"x":{"datum":3.952,"type":"quantitative","axis":null},"y":{"datum":3.4,"type":"quantitative","axis":null}}}
]
},
{
"width":675,"height":107.5,
"resolve":{"axis":{"x":"independent","y":"independent"}},
"layer":[
{"data":{"name":"T"},"mark":{"type":"line","color":"#0072BD","strokeWidth":1.3},
 "encoding":{"x":{"field":"t","type":"quantitative","scale":{"domain":[3,21],"nice":false,"zero":false},"axis":{"orient":"bottom","values":[6,9,12,15,18],"tickSize":-5,"labels":false,"title":null}},
 "y":{"field":"v","type":"quantitative","scale":{"domain":[0,13.9],"nice":false,"zero":false},"axis":{"orient":"left","values":[0,5,10],"tickSize":-5,"labelPadding":6,"labelExpr":"'' + datum.value","title":null,"labelFlush":false,"labelOverlap":false,"minExtent":52,"maxExtent":52}},
 "detail":{"field":"s","type":"nominal"}}},
{"data":{"values":[{}]},"mark":{"type":"rule","color":"#000000","strokeWidth":2.6,"strokeDash":[8,4]},
 "encoding":{"x":{"datum":4.473,"type":"quantitative","axis":{"orient":"top","values":[6,9,12,15,18],"tickSize":-5,"labels":false,"title":null}},"x2":{"datum":4.499},
 "y":{"datum":13.9,"type":"quantitative","axis":{"orient":"right","values":[0,5,10],"tickSize":-5,"labels":false,"title":null}},"y2":{"datum":0}}},
{"data":{"values":[{}]},"mark":{"type":"rule","color":"#E8202A","strokeWidth":2.8,"strokeDash":[7,4]},"encoding":{"x":{"datum":17.55,"type":"quantitative","axis":null}}},
{"data":{"values":[{}]},"mark":{"type":"text","text":"T","angle":270,"fontSize":17,"color":"#262626","align":"center","baseline":"middle"},"encoding":{"x":{"datum":1.552,"type":"quantitative","axis":null},"y":{"datum":3.57,"type":"quantitative","axis":null}}},
{"data":{"values":[{}]},"mark":{"type":"text","text":"SW","angle":270,"fontSize":12,"color":"#262626","align":"center","baseline":"middle"},"encoding":{"x":{"datum":1.8,"type":"quantitative","axis":null},"y":{"datum":6.54,"type":"quantitative","axis":null}}},
{"data":{"values":[{}]},"mark":{"type":"text","text":"[K]","angle":270,"fontSize":17,"color":"#262626","align":"center","baseline":"middle"},"encoding":{"x":{"datum":1.552,"type":"quantitative","axis":null},"y":{"datum":9.71,"type":"quantitative","axis":null}}}
]
},
{
"width":675,"height":107.5,
"resolve":{"axis":{"x":"independent","y":"independent"}},
"layer":[
{"data":{"name":"B"},"mark":{"type":"line","strokeWidth":1.3},
 "encoding":{"x":{"field":"t","type":"quantitative","scale":{"domain":[3,21],"nice":false,"zero":false},"axis":{"orient":"bottom","values":[6,9,12,15,18],"tickSize":-5,"labels":false,"title":null}},
 "y":{"field":"v","type":"quantitative","scale":{"domain":[-26,31],"nice":false,"zero":false},"axis":{"orient":"left","values":[-20,0,20],"tickSize":-5,"labelPadding":6,"labelExpr":"'' + datum.value","title":null,"labelFlush":false,"labelOverlap":false,"minExtent":52,"maxExtent":52}},
 "color":{"field":"c","type":"nominal","scale":{"domain":["By","Bz"],"range":["#0072BD","#D95319"]},"legend":{"title":null,"orient":"none","legendX":589,"legendY":7,"symbolType":"stroke","symbolSize":1300,"symbolStrokeWidth":1.3,"labelFontSize":17,"labelFont":"DejaVu Sans","labelColor":"#262626","labelOffset":5,"strokeColor":"#333333","fillColor":"white","padding":5,"rowPadding":6,"cornerRadius":0}},
 "detail":{"field":"s","type":"nominal"}}},
{"data":{"values":[{}]},"mark":{"type":"rule","color":"#000000","strokeWidth":2.6,"strokeDash":[8,4]},
 "encoding":{"x":{"datum":4.5,"type":"quantitative","axis":{"orient":"top","values":[6,9,12,15,18],"tickSize":-5,"labels":false,"title":null}},"x2":{"datum":4.526},
 "y":{"datum":31,"type":"quantitative","axis":{"orient":"right","values":[-20,0,20],"tickSize":-5,"labels":false,"title":null}},"y2":{"datum":-26}}},
{"data":{"values":[{}]},"mark":{"type":"rule","color":"#E8202A","strokeWidth":2.8,"strokeDash":[7,4]},"encoding":{"x":{"datum":17.55,"type":"quantitative","axis":null}}},
{"data":{"values":[{}]},"mark":{"type":"text","text":"B","angle":270,"fontSize":17,"color":"#262626","align":"center","baseline":"middle"},"encoding":{"x":{"datum":1.405,"type":"quantitative","axis":null},"y":{"datum":-13,"type":"quantitative","axis":null}}},
{"data":{"values":[{}]},"mark":{"type":"text","text":"SW","angle":270,"fontSize":12,"color":"#262626","align":"center","baseline":"middle"},"encoding":{"x":{"datum":1.665,"type":"quantitative","axis":null},"y":{"datum":0,"type":"quantitative","axis":null}}},
{"data":{"values":[{}]},"mark":{"type":"text","text":"[nT]","angle":270,"fontSize":17,"color":"#262626","align":"center","baseline":"middle"},"encoding":{"x":{"datum":1.405,"type":"quantitative","axis":null},"y":{"datum":15.9,"type":"quantitative","axis":null}}}
]
},
{
"width":675,"height":107.5,
"resolve":{"axis":{"x":"independent","y":"independent"}},
"layer":[
{"data":{"name":"abk"},"mark":{"type":"line","color":"#000000","strokeWidth":2},
 "encoding":{"x":{"field":"t","type":"quantitative","scale":{"domain":[3,21],"nice":false,"zero":false},"axis":{"orient":"bottom","values":[6,9,12,15,18],"tickSize":-5,"labels":false,"title":null}},
 "y":{"field":"v","type":"quantitative","scale":{"domain":[-1265,1290],"nice":false,"zero":false},"axis":{"orient":"left","values":[-1000,0,1000],"tickSize":-5,"labelPadding":6,"labelExpr":"'' + datum.value","title":"abk [nT]","titlePadding":6,"labelFlush":false,"labelOverlap":false,"minExtent":52,"maxExtent":52}}}},
{"data":{"values":[{}]},"mark":{"type":"rule","color":"#000000","strokeWidth":2.6,"strokeDash":[8,4]},
 "encoding":{"x":{"datum":4.527,"type":"quantitative","axis":{"orient":"top","values":[6,9,12,15,18],"tickSize":-5,"labels":false,"title":null}},"x2":{"datum":4.553},
 "y":{"datum":1290,"type":"quantitative","axis":{"orient":"right","values":[-1000,0,1000],"tickSize":-5,"labels":false,"title":null}},"y2":{"datum":-1265}}},
{"data":{"values":[{}]},"mark":{"type":"rule","color":"#E8202A","strokeWidth":2.8,"strokeDash":[7,4]},"encoding":{"x":{"datum":17.55,"type":"quantitative","axis":null}}}
]
},
{
"width":675,"height":107.5,
"resolve":{"axis":{"x":"independent","y":"independent"}},
"layer":[
{"data":{"name":"lyc"},"mark":{"type":"line","color":"#000000","strokeWidth":2},
 "encoding":{"x":{"field":"t","type":"quantitative","scale":{"domain":[3,21],"nice":false,"zero":false},"axis":{"orient":"bottom","values":[6,9,12,15,18],"tickSize":-5,"labels":false,"title":null}},
 "y":{"field":"v","type":"quantitative","scale":{"domain":[-1265,1290],"nice":false,"zero":false},"axis":{"orient":"left","values":[-1000,0,1000],"tickSize":-5,"labelPadding":6,"labelExpr":"'' + datum.value","title":"lyc [nT]","titlePadding":6,"labelFlush":false,"labelOverlap":false,"minExtent":52,"maxExtent":52}}}},
{"data":{"values":[{}]},"mark":{"type":"rule","color":"#000000","strokeWidth":2.6,"strokeDash":[8,4]},
 "encoding":{"x":{"datum":4.554,"type":"quantitative","axis":{"orient":"top","values":[6,9,12,15,18],"tickSize":-5,"labels":false,"title":null}},"x2":{"datum":4.58},
 "y":{"datum":1290,"type":"quantitative","axis":{"orient":"right","values":[-1000,0,1000],"tickSize":-5,"labels":false,"title":null}},"y2":{"datum":-1265}}},
{"data":{"values":[{}]},"mark":{"type":"rule","color":"#E8202A","strokeWidth":2.8,"strokeDash":[7,4]},"encoding":{"x":{"datum":17.55,"type":"quantitative","axis":null}}}
]
},
{
"width":675,"height":107.5,
"resolve":{"axis":{"x":"independent","y":"independent"}},
"layer":[
{"data":{"name":"nur"},"mark":{"type":"line","color":"#000000","strokeWidth":2},
 "encoding":{"x":{"field":"t","type":"quantitative","scale":{"domain":[3,21],"nice":false,"zero":false},"axis":{"orient":"bottom","values":[6,9,12,15,18],"tickSize":-5,"labels":false,"title":null}},
 "y":{"field":"v","type":"quantitative","scale":{"domain":[-1265,1290],"nice":false,"zero":false},"axis":{"orient":"left","values":[-1000,0,1000],"tickSize":-5,"labelPadding":6,"labelExpr":"'' + datum.value","title":"nur [nT]","titlePadding":6,"labelFlush":false,"labelOverlap":false,"minExtent":52,"maxExtent":52}}}},
{"data":{"values":[{}]},"mark":{"type":"rule","color":"#000000","strokeWidth":2.6,"strokeDash":[8,4]},
 "encoding":{"x":{"datum":4.581,"type":"quantitative","axis":{"orient":"top","values":[6,9,12,15,18],"tickSize":-5,"labels":false,"title":null}},"x2":{"datum":4.607},
 "y":{"datum":1290,"type":"quantitative","axis":{"orient":"right","values":[-1000,0,1000],"tickSize":-5,"labels":false,"title":null}},"y2":{"datum":-1265}}},
{"data":{"values":[{}]},"mark":{"type":"rule","color":"#E8202A","strokeWidth":2.8,"strokeDash":[7,4]},"encoding":{"x":{"datum":17.55,"type":"quantitative","axis":null}}}
]
},
{
"width":675,"height":107.5,
"resolve":{"axis":{"x":"independent","y":"independent"}},
"layer":[
{"data":{"name":"ups"},"mark":{"type":"line","color":"#000000","strokeWidth":2},
 "encoding":{"x":{"field":"t","type":"quantitative","scale":{"domain":[3,21],"nice":false,"zero":false},"axis":{"orient":"bottom","values":[3,6,9,12,15,18,21],"tickSize":-5,"labelPadding":12,"labelExpr":"(datum.value < 10 ? '0' : '') + datum.value + ':00'","labelFlush":false,"labelOverlap":false,"title":"Time [UTC]","titlePadding":6}},
 "y":{"field":"v","type":"quantitative","scale":{"domain":[-1265,1290],"nice":false,"zero":false},"axis":{"orient":"left","values":[-1000,0,1000],"tickSize":-5,"labelPadding":6,"labelExpr":"'' + datum.value","title":"ups [nT]","titlePadding":6,"labelFlush":false,"labelOverlap":false,"minExtent":52,"maxExtent":52}}}},
{"data":{"values":[{}]},"mark":{"type":"rule","color":"#000000","strokeWidth":2.6,"strokeDash":[8,4]},
 "encoding":{"x":{"datum":4.608,"type":"quantitative","axis":{"orient":"top","values":[6,9,12,15,18],"tickSize":-5,"labels":false,"title":null}},"x2":{"datum":4.632},
 "y":{"datum":1290,"type":"quantitative","axis":{"orient":"right","values":[-1000,0,1000],"tickSize":-5,"labels":false,"title":null}},"y2":{"datum":-1130}}},
{"data":{"values":[{}]},"mark":{"type":"rule","color":"#E8202A","strokeWidth":2.8,"strokeDash":[7,4]},"encoding":{"x":{"datum":17.55,"type":"quantitative","axis":null}}}
]
}
]
}
